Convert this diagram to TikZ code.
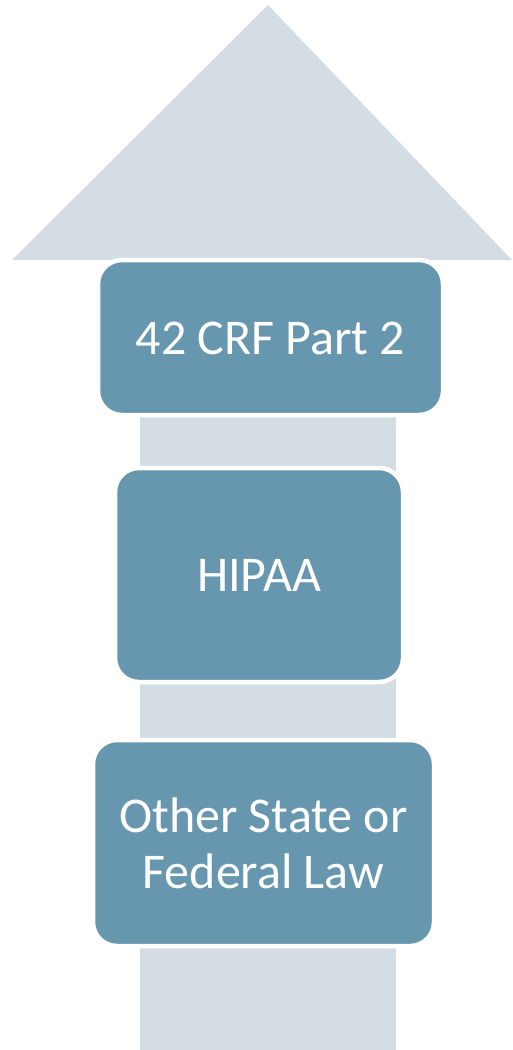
\documentclass[tikz,border=0pt]{standalone}
\usepackage{fontspec}
\setmainfont{Carlito}
\definecolor{boxblue}{HTML}{6797AE}
\definecolor{arrowgray}{HTML}{D5DDE4}
\begin{document}
\begin{tikzpicture}[x=1pt,y=-1pt,
  lawbox/.style={fill=boxblue,draw=white,line width=4.5pt,rounded corners=24pt},
  lawtext/.style={text=white,font=\fontsize{50}{56}\selectfont,align=center}]
\useasboundingbox (0,0) rectangle (512,1050);
% arrow
\fill[arrowgray] (140,1050) -- (140,260) -- (12,260) -- (268,5) -- (512,260) -- (396,260) -- (396,1050) -- cycle;
% boxes
\draw[lawbox] (98,260) rectangle (443,415);
\draw[lawbox] (115,468) rectangle (403,682);
\draw[lawbox] (93,740) rectangle (434,946);
\node[lawtext] (b1) at (270.5,338) {42 CRF Part 2};
\node[lawtext] (b2) at (259,575) {HIPAA};
\node[lawtext] (b3) at (263.5,843) {Other State or\\Federal Law};
\end{tikzpicture}
\end{document}
